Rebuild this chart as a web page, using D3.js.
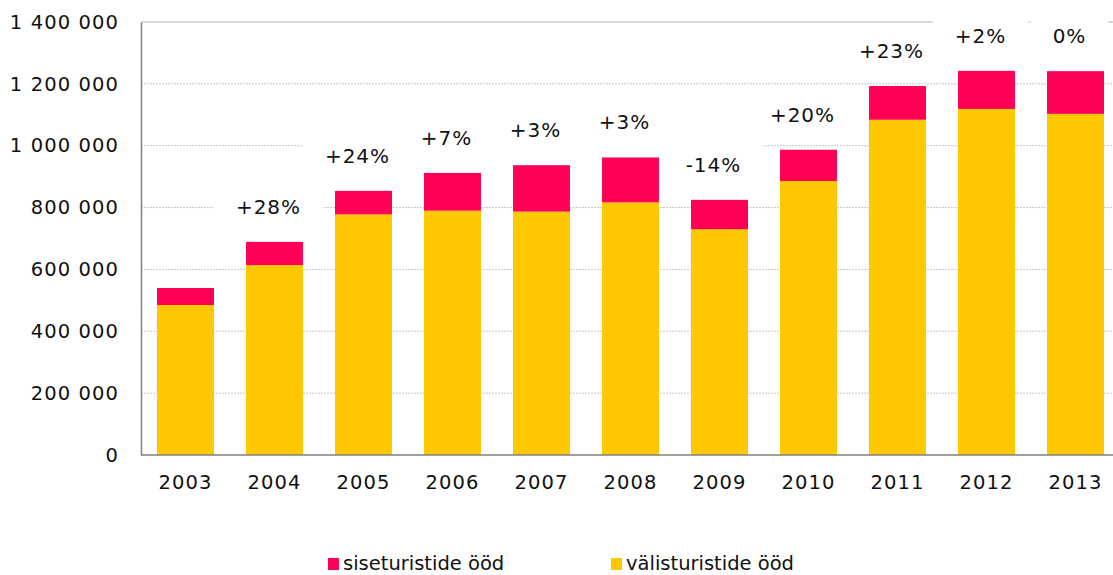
<!DOCTYPE html>
<head>
  <meta charset="utf-8">
  <style>
  body { margin: 0; background: #fff; }
  * { font-family: "DejaVu Sans", Verdana, sans-serif; }
  .grid line { stroke: #c8c8c8; stroke-width: 1px; stroke-dasharray: 2,1; }
  .tick-label { font-size: 19.5px; letter-spacing: 1.1px; fill: #111; }
  .pct { font-size: 20px; letter-spacing: 1px; fill: #111; }
  .legend text { font-size: 19.5px; fill: #111; }
  </style>
  <title>Turistide ööd</title>
</head>
<body>
  <svg width="1113" height="575"></svg>
  <script src="https://cdn.jsdelivr.net/npm/d3@7"></script>
  <script>
  // data
  var years = ["2003", "2004", "2005", "2006", "2007", "2008", "2009", "2010", "2011", "2012", "2013"];
  var foreign = [485000, 614000, 778000, 790000, 787000, 817000, 730000, 886000, 1084000, 1119000, 1103000];
  var domestic = [55000, 75000, 76000, 122000, 150000, 145000, 95000, 101000, 109000, 123000, 138000];
  var growth = ["", "+28%", "+24%", "+7%", "+3%", "+3%", "-14%", "+20%", "+23%", "+2%", "0%"];
  var yTicks = [0, 200000, 400000, 600000, 800000, 1000000, 1200000, 1400000];
  var seriesNames = ["siseturistide ööd", "välisturistide ööd"];
  var colors = ["#ff0055", "#ffc800"];

  var svg = d3.select("svg");

  var x = d3.scaleBand()
      .domain(years)
      .range([141, 1120])
      .paddingInner(0.36)
      .paddingOuter(0.18);

  var y = d3.scaleLinear()
      .domain([0, 1400000])
      .range([455, 22]);

  var fmt = function(v) { return d3.format(",")(v).replace(/,/g, " "); };

  var rows = years.map(function(yr, i) {
    return { year: yr, foreign: foreign[i], domestic: domestic[i], total: foreign[i] + domestic[i], label: growth[i] };
  });

  // gridlines
  svg.append("g")
      .attr("class", "grid")
    .selectAll("line")
    .data(yTicks.slice(1, -1))
    .enter().append("line")
      .attr("x1", 141)
      .attr("x2", 1113)
      .attr("y1", function(d) { return y(d); })
      .attr("y2", function(d) { return y(d); });

  svg.append("line")
      .attr("x1", 141).attr("x2", 1113)
      .attr("y1", y(1400000)).attr("y2", y(1400000))
      .attr("stroke", "#d9d9d9")
      .attr("stroke-width", 2);

  // growth labels sit in white boxes that break the gridlines
  var labelRows = rows.filter(function(d) { return d.label; });
  var labelX = function(d) { return x(d.year) + x.bandwidth() / 2 - 6; };
  var labelY = function(d) { return y(d.total) - 28; };

  var pctText = svg.append("g")
    .selectAll("text")
    .data(labelRows)
    .enter().append("text")
      .attr("class", "pct")
      .attr("text-anchor", "middle")
      .attr("x", labelX)
      .attr("y", labelY)
      .text(function(d) { return d.label; });

  var boxes = svg.insert("g", "g:last-of-type");
  pctText.each(function(d) {
    var b = this.getBBox();
    boxes.append("rect")
        .attr("x", b.x - 22)
        .attr("y", b.y - 12)
        .attr("width", b.width + 44)
        .attr("height", b.height + 26)
        .attr("fill", "#fff");
  });

  // stacked bars
  var bars = svg.insert("g", "g:last-of-type");
  bars.selectAll(".foreign")
    .data(rows)
    .enter().append("rect")
      .attr("class", "foreign")
      .attr("x", function(d) { return x(d.year); })
      .attr("width", x.bandwidth())
      .attr("y", function(d) { return y(d.foreign); })
      .attr("height", function(d) { return y(0) - y(d.foreign); })
      .attr("fill", colors[1]);

  bars.selectAll(".domestic")
    .data(rows)
    .enter().append("rect")
      .attr("class", "domestic")
      .attr("x", function(d) { return x(d.year); })
      .attr("width", x.bandwidth())
      .attr("y", function(d) { return y(d.total); })
      .attr("height", function(d) { return y(d.foreign) - y(d.total); })
      .attr("fill", colors[0]);

  // axes
  var yAxis = svg.append("g")
      .attr("transform", "translate(141,0)")
      .call(d3.axisLeft(y).tickValues(yTicks).tickSize(0).tickPadding(22).tickFormat(fmt));
  yAxis.select(".domain").attr("stroke", "#7f7f7f").attr("stroke-width", 1.5);
  yAxis.selectAll("text").attr("class", "tick-label").attr("font-size", null).attr("font-family", null);

  var xAxis = svg.append("g")
      .attr("transform", "translate(0,455)")
      .call(d3.axisBottom(x).tickSize(0).tickPadding(20));
  xAxis.select(".domain").attr("d", "M141,0H1113").attr("stroke", "#7f7f7f").attr("stroke-width", 1.5);
  xAxis.selectAll("text").attr("class", "tick-label").attr("font-size", null).attr("font-family", null);

  // legend
  var legend = svg.append("g").attr("class", "legend");
  var legendX = [328, 611];
  seriesNames.forEach(function(name, i) {
    var g = legend.append("g").attr("transform", "translate(" + legendX[i] + ",558)");
    g.append("rect").attr("width", 11).attr("height", 12).attr("fill", colors[i]);
    g.append("text").attr("x", 15).attr("y", 12).text(name);
  });
  </script>
</body>
